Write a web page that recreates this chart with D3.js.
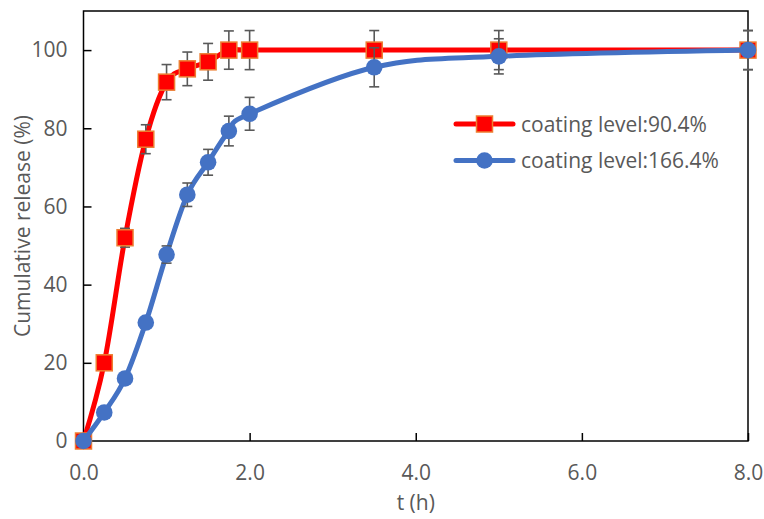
<!DOCTYPE html>
<html>
<head>
<meta charset="utf-8">
<script src="https://cdn.jsdelivr.net/npm/d3@7"></script>
<style>
  body { margin: 0; background: #fff; }
  svg { display: block; font-family: "Open Sans", sans-serif; }
</style>
</head>
<body>
<div id="chart"></div>
<script>
// Release data
const times = [0, 0.25, 0.5, 0.75, 1.0, 1.25, 1.5, 1.75, 2.0, 3.5, 5.0, 8.0];
const release904 = [0, 20, 52, 77.2, 91.8, 95.2, 97, 100, 100, 100, 100, 100];
const err904 = [0, 1, 2.4, 3.7, 4.5, 4.3, 4.7, 4.9, 5, 5, 5, 5];
const release1664 = [0, 7.3, 16, 30.3, 47.7, 63, 71.3, 79.3, 83.7, 95.6, 98.4, 100];
const err1664 = [0, 0.5, 0.5, 0.5, 2.2, 3, 3.3, 3.8, 4.2, 5, 4.5, 5];
const xTicks = [0, 2, 4, 6, 8];
const yTicks = [0, 20, 40, 60, 80, 100];
const seriesNames = ["coating level:90.4%", "coating level:166.4%"];

const width = 764;
const height = 519;
const margin = { top: 11, right: 16, bottom: 78, left: 83.5 };
const textColor = "#595959";

const series = [
  { name: seriesNames[0], values: release904, errors: err904, color: "#ff0000", marker: "square" },
  { name: seriesNames[1], values: release1664, errors: err1664, color: "#4472c4", marker: "circle" },
];

const svg = d3.select("#chart").append("svg").attr("width", width).attr("height", height);
svg.append("rect").attr("width", width).attr("height", height).attr("fill", "#fff");

const x = d3.scaleLinear().domain([0, 8]).range([margin.left, width - margin.right]);
const y = d3.scaleLinear().domain([0, 110]).range([height - margin.bottom, margin.top]);

// Axes with inward ticks
const xAxis = svg
  .append("g")
  .attr("transform", `translate(0,${y(0)})`)
  .call(d3.axisBottom(x).tickValues(xTicks).tickFormat(d3.format(".1f")).tickSizeInner(-8).tickSizeOuter(0).tickPadding(24));
const yAxis = svg
  .append("g")
  .attr("transform", `translate(${x(0)},0)`)
  .call(d3.axisLeft(y).tickValues(yTicks).tickSizeInner(-8).tickSizeOuter(0).tickPadding(16));

[xAxis, yAxis].forEach((g) => {
  g.select(".domain").remove();
  g.selectAll(".tick line").attr("stroke", "#000").attr("stroke-width", 1.5);
  g.selectAll(".tick text").attr("fill", textColor).style("font-size", "21px").style("font-family", "'Open Sans', sans-serif");
});

// Plot frame
svg
  .append("rect")
  .attr("x", x(0))
  .attr("y", y(110))
  .attr("width", x(8) - x(0))
  .attr("height", y(0) - y(110))
  .attr("fill", "none")
  .attr("stroke", "#000")
  .attr("stroke-width", 1.5);

// Axis titles
svg
  .append("text")
  .attr("x", (x(0) + x(8)) / 2)
  .attr("y", 510)
  .attr("text-anchor", "middle")
  .attr("fill", textColor)
  .style("font-size", "21px")
  .text("t (h)");

svg
  .append("text")
  .attr("transform", `translate(30,${(y(0) + y(110)) / 2}) rotate(-90)`)
  .attr("text-anchor", "middle")
  .attr("fill", textColor)
  .style("font-size", "21px")
  .text("Cumulative release (%)");

const line = d3
  .line()
  .x((d, i) => x(times[i]))
  .y((d) => y(d))
  .curve(d3.curveCardinal.tension(0));

function drawMarker(g, s, cx, cy) {
  if (s.marker === "square") {
    g.append("rect")
      .attr("x", cx - 8)
      .attr("y", cy - 8)
      .attr("width", 16)
      .attr("height", 16)
      .attr("fill", s.color)
      .attr("stroke", "#ed7d31")
      .attr("stroke-width", 1.5);
  } else {
    g.append("circle").attr("cx", cx).attr("cy", cy).attr("r", 8.3).attr("fill", s.color);
  }
}

// Series: line, error bars, markers
series.forEach((s) => {
  const g = svg.append("g");
  g.append("path")
    .attr("d", line(s.values))
    .attr("fill", "none")
    .attr("stroke", s.color)
    .attr("stroke-width", 5)
    .attr("stroke-linecap", "round");

  s.values.forEach((v, i) => {
    const e = s.errors[i];
    if (e <= 0) return;
    const cx = x(times[i]);
    const eb = g.append("g").attr("stroke", "#595959").attr("stroke-width", 1.6);
    eb.append("line").attr("x1", cx).attr("x2", cx).attr("y1", y(v - e)).attr("y2", y(v + e));
    eb.append("line").attr("x1", cx - 5).attr("x2", cx + 5).attr("y1", y(v - e)).attr("y2", y(v - e));
    eb.append("line").attr("x1", cx - 5).attr("x2", cx + 5).attr("y1", y(v + e)).attr("y2", y(v + e));
  });

  s.values.forEach((v, i) => drawMarker(g, s, x(times[i]), y(v)));
});

// Legend
const legend = svg.append("g").attr("transform", "translate(456,124)");
series.forEach((s, i) => {
  const row = legend.append("g").attr("transform", `translate(0,${i * 36.5})`);
  row.append("line").attr("x1", 0).attr("x2", 57).attr("stroke", s.color).attr("stroke-width", 5).attr("stroke-linecap", "round");
  drawMarker(row, s, 28.5, 0);
  row.append("text")
    .attr("x", 65)
    .attr("y", 7.5)
    .attr("fill", textColor)
    .style("font-size", "21px")
    .text(s.name);
});
</script>
</body>
</html>
